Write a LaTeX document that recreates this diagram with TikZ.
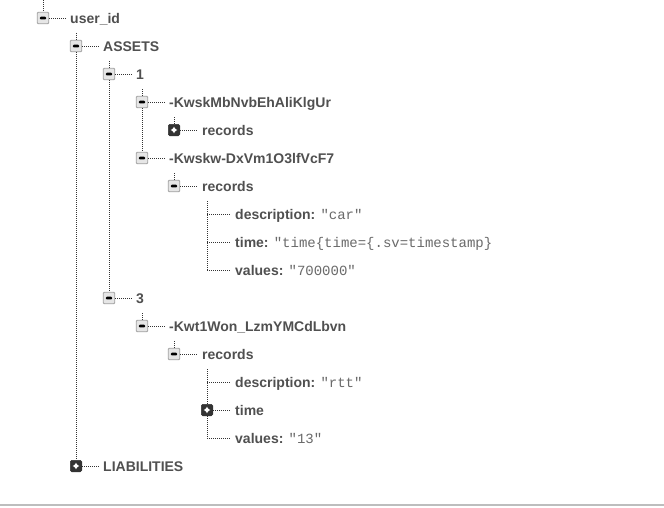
\documentclass[tikz,border=0pt]{standalone}
\usepackage{fontspec}
\setmainfont{Liberation Sans}
\newfontfamily\valfontfam{Liberation Mono}
\definecolor{keyc}{HTML}{505050}
\definecolor{valc}{HTML}{6A6A6A}
\definecolor{dotc}{HTML}{333333}
\definecolor{boxb}{HTML}{A0A0A0}
\definecolor{boxf}{HTML}{E6E6E6}
\definecolor{plusf}{HTML}{333333}
\definecolor{rulec}{HTML}{BDBDBD}
\newcommand{\vf}[1]{{\fontsize{14pt}{16pt}\valfontfam\mdseries\color{valc}#1}}
\tikzset{
  conn/.style={line width=1pt, dash pattern=on 1pt off 1pt, draw=dotc},
  minusbox/.style={draw=boxb, fill=boxf, rounded corners=1pt, minimum size=11.5pt,
    inner sep=0pt, line width=0.8pt,
    path picture={\fill[black] ([xshift=-3.2pt,yshift=-1.3pt]path picture bounding box.center)
      rectangle ([xshift=3.2pt,yshift=1.3pt]path picture bounding box.center);}},
  plusbox/.style={fill=plusf, draw=plusf, rounded corners=1.5pt, minimum size=11.5pt, inner sep=0pt,
    line width=0.5pt,
    path picture={\fill[white] ([xshift=-3.2pt,yshift=-1.1pt]path picture bounding box.center)
      rectangle ([xshift=3.2pt,yshift=1.1pt]path picture bounding box.center);
      \fill[white] ([xshift=-1.1pt,yshift=-3.2pt]path picture bounding box.center)
      rectangle ([xshift=1.1pt,yshift=3.2pt]path picture bounding box.center);}},
  key/.style={anchor=base west, inner sep=0pt, text=keyc, font=\fontsize{14pt}{16pt}\bfseries},
  hconn/.style={conn, shorten >=4pt},
}
\begin{document}
\begin{tikzpicture}[x=1pt,y=-1pt]
\useasboundingbox[fill=white] (0,0) rectangle (664,507);
\draw[rulec, line width=2pt] (0,505) -- (664,505);

% boxes
\node[minusbox] (b0) at (43,18) {};
\node[minusbox] (b1a) at (76,46) {};
\node[plusbox] (b1b) at (76,466) {};
\node[minusbox] (b2a) at (109,74) {};
\node[minusbox] (b2b) at (109,298) {};
\node[minusbox] (b3a) at (142,102) {};
\node[plusbox] (b4a) at (174,130) {};
\node[minusbox] (b3b) at (142,158) {};
\node[minusbox] (b4b) at (174,186) {};
\coordinate (c5a) at (207,214);
\coordinate (c5b) at (207,242);
\coordinate (c5c) at (207,270);
\node[minusbox] (b3c) at (142,326) {};
\node[minusbox] (b4c) at (174,354) {};
\coordinate (c5d) at (207,382);
\node[plusbox] (b5e) at (207,410) {};
\coordinate (c5f) at (207,438);

% texts
\node[key] (t0) at (70,23) {user\_id};
\node[key] (t1a) at (103,51) {ASSETS};
\node[key] (t1b) at (103,471) {LIABILITIES};
\node[key] (t2a) at (136,79) {1};
\node[key] (t2b) at (136,303) {3};
\node[key] (t3a) at (169,107) {-KwskMbNvbEhAliKlgUr};
\node[key] (t4a) at (202,135) {records};
\node[key] (t3b) at (169,163) {-Kwskw-DxVm1O3lfVcF7};
\node[key] (t4b) at (202,191) {records};
\node[key] (t5a) at (235,219) {description: \vf{"car"}};
\node[key] (t5b) at (235,247) {time: \vf{"time\{time=\{.sv=timestamp\}}};
\node[key] (t5c) at (235,275) {values: \vf{"700000"}};
\node[key] (t3c) at (169,331) {-Kwt1Won\_LzmYMCdLbvn};
\node[key] (t4c) at (202,359) {records};
\node[key] (t5d) at (235,387) {description: \vf{"rtt"}};
\node[key] (t5e) at (235,415) {time};
\node[key] (t5f) at (235,443) {values: \vf{"13"}};

% horizontal connectors
\foreach \b/\t in {b0/t0,b1a/t1a,b1b/t1b,b2a/t2a,b2b/t2b,b3a/t3a,b4a/t4a,b3b/t3b,b4b/t4b,b3c/t3c,b4c/t4c,b5e/t5e}
  \draw[hconn] (\b.east) -- (\b.east -| \t.west);
\foreach \c/\t in {c5a/t5a,c5b/t5b,c5c/t5c,c5d/t5d,c5f/t5f}
  \draw[hconn] (\c) -- (\c -| \t.west);

% vertical connectors
\coordinate (top0) at (43,0);
\coordinate (v1) at (76,33);
\coordinate (v2) at (109,61);
\coordinate (v3) at (142,89);
\coordinate (v4a) at (174,117);
\coordinate (v4b) at (174,173);
\coordinate (v5a) at (207,201);
\coordinate (v3c) at (142,313);
\coordinate (v4c) at (174,341);
\coordinate (v5d) at (207,369);
\draw[conn] (top0) -- (b0.north);
\draw[conn] (v1) -- (b1a.north);
\draw[conn] (b1a.south) -- (b1b.north);
\draw[conn] (v2) -- (b2a.north);
\draw[conn] (b2a.south) -- (b2b.north);
\draw[conn] (v3) -- (b3a.north);
\draw[conn] (b3a.south) -- (b3b.north);
\draw[conn] (v4a) -- (b4a.north);
\draw[conn] (v4b) -- (b4b.north);
\draw[conn] (v5a) -- (c5c);
\draw[conn] (v3c) -- (b3c.north);
\draw[conn] (v4c) -- (b4c.north);
\draw[conn] (v5d) -- (b5e.north);
\draw[conn] (b5e.south) -- (c5f);
\end{tikzpicture}
\end{document}
